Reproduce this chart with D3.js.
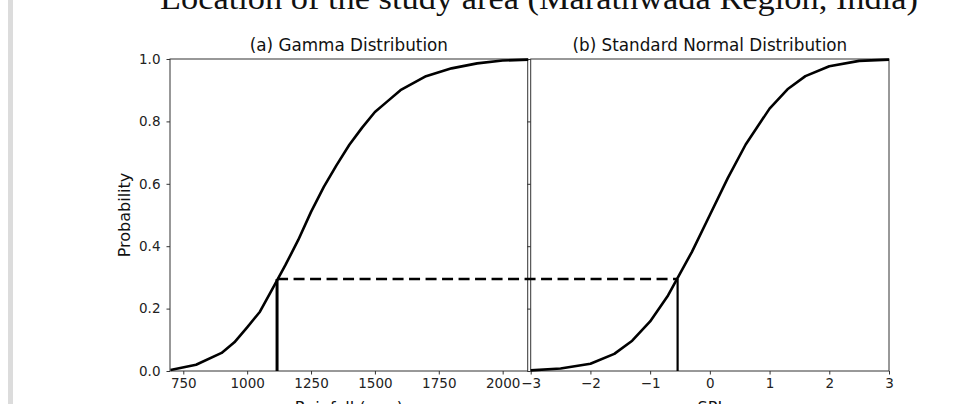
<!DOCTYPE html>
<html><head><meta charset="utf-8">
<script src="https://cdn.jsdelivr.net/npm/d3@7"></script>
<style>
html,body{margin:0;padding:0;background:#fff;overflow:hidden;}
svg{display:block;}
</style></head>
<body>
<svg id="chart" width="963" height="404"></svg>
<script>
// ---- data ----
const rainfall = [700, 800, 900, 950, 1000, 1050, 1100, 1150, 1200, 1250, 1300, 1350, 1400, 1450, 1500, 1550, 1600, 1700, 1800, 1900, 2000, 2100];
const gammaProb = [0.003, 0.02, 0.058, 0.092, 0.14, 0.19, 0.265, 0.34, 0.42, 0.51, 0.59, 0.66, 0.725, 0.78, 0.83, 0.865, 0.90, 0.945, 0.97, 0.986, 0.995, 0.998];
const spi = [-3, -2.5, -2.0, -1.6, -1.3, -1.0, -0.7, -0.3, 0, 0.3, 0.6, 1.0, 1.3, 1.6, 2.0, 2.5, 3.0];
const normalProb = [0.002, 0.008, 0.023, 0.055, 0.097, 0.159, 0.242, 0.382, 0.5, 0.618, 0.726, 0.841, 0.903, 0.945, 0.977, 0.994, 0.998];
const markRain = 1117, markSpi = -0.54, markProb = 0.295;
const rainTicks = [750, 1000, 1250, 1500, 1750, 2000];
const spiTicks = [-3, -2, -1, 0, 1, 2, 3];
const probTicks = [0, 0.2, 0.4, 0.6, 0.8, 1.0];
const titleA = "(a) Gamma Distribution";
const titleB = "(b) Standard Normal Distribution";
const xLabelA = "Rainfall (mm)";
const xLabelB = "SPI";
const yLabel = "Probability";
const pageTitle = "Location of the study area (Marathwada Region, India)";

// ---- layout ----
const svg = d3.select("#chart");
const plotTop = 59, plotBottom = 371;
const xa = d3.scaleLinear().domain([698, 2098]).range([170, 527.7]);
const xb = d3.scaleLinear().domain([-3, 3]).range([530.7, 889]);
const y = d3.scaleLinear().domain([0, 1]).range([plotBottom, plotTop]);
const font = "'DejaVu Sans', sans-serif";

// grey page bar and clipped heading
svg.append("rect").attr("x", 8).attr("y", 0).attr("width", 5).attr("height", 404).attr("fill", "#dcdcdc");
svg.append("text").attr("x", 160).attr("y", 9).attr("textLength", 758).attr("lengthAdjust", "spacingAndGlyphs")
  .attr("font-family", "'Liberation Serif', 'Times New Roman', serif").attr("font-size", 31).attr("fill", "#111")
  .text(pageTitle);

function panel(x, ticks, fmt, showYLabels) {
  const g = svg.append("g");
  const [x0, x1] = x.range();
  const ax = g.append("g").attr("transform", `translate(0,${plotBottom})`)
    .call(d3.axisBottom(x).tickValues(ticks).tickFormat(fmt).tickSize(3.5).tickPadding(3.5).tickSizeOuter(0));
  ax.select(".domain").remove();
  ax.selectAll("line").attr("stroke", "#333").attr("stroke-width", 1);
  ax.selectAll("text").attr("font-family", font).attr("font-size", 13.5).attr("fill", "#222");
  const ay = g.append("g").attr("transform", `translate(${x0},0)`)
    .call(d3.axisLeft(y).tickValues(probTicks).tickFormat(showYLabels ? d3.format(".1f") : () => "").tickSize(3.5).tickPadding(6).tickSizeOuter(0));
  ay.select(".domain").remove();
  ay.selectAll("line").attr("stroke", "#333").attr("stroke-width", 1);
  ay.selectAll("text").attr("font-family", font).attr("font-size", 13.5).attr("fill", "#222");
  g.append("rect").attr("x", x0).attr("y", plotTop).attr("width", x1 - x0).attr("height", plotBottom - plotTop)
    .attr("fill", "none").attr("stroke", "#333").attr("stroke-width", 1);
  return g;
}

panel(xa, rainTicks, d3.format("d"), true);
panel(xb, spiTicks, d3.format("d"), false);

const line = (xs) => d3.line().x(d => xs(d[0])).y(d => y(d[1]));
svg.append("path").datum(rainfall.map((r, i) => [r, gammaProb[i]]))
  .attr("d", line(xa)).attr("fill", "none").attr("stroke", "#000").attr("stroke-width", 2.6).attr("stroke-linejoin", "round");
svg.append("path").datum(spi.map((s, i) => [s, normalProb[i]]))
  .attr("d", line(xb)).attr("fill", "none").attr("stroke", "#000").attr("stroke-width", 2.6).attr("stroke-linejoin", "round");

svg.append("line").attr("x1", xa(markRain)).attr("x2", xa(markRain)).attr("y1", y(0)).attr("y2", y(markProb))
  .attr("stroke", "#000").attr("stroke-width", 3);
svg.append("line").attr("x1", xb(markSpi)).attr("x2", xb(markSpi)).attr("y1", y(0)).attr("y2", y(markProb))
  .attr("stroke", "#000").attr("stroke-width", 2.2);
svg.append("line").attr("x1", xa(markRain)).attr("x2", xb(markSpi)).attr("y1", y(markProb)).attr("y2", y(markProb))
  .attr("stroke", "#000").attr("stroke-width", 2.6).attr("stroke-dasharray", "11,5.5");

svg.append("text").attr("x", (xa.range()[0] + xa.range()[1]) / 2).attr("y", 51).attr("text-anchor", "middle")
  .attr("font-family", font).attr("font-size", 16.8).attr("fill", "#111").text(titleA);
svg.append("text").attr("x", (xb.range()[0] + xb.range()[1]) / 2).attr("y", 51).attr("text-anchor", "middle")
  .attr("font-family", font).attr("font-size", 16.8).attr("fill", "#111").text(titleB);
svg.append("text").attr("transform", `translate(130,${y(0.5)}) rotate(-90)`).attr("text-anchor", "middle")
  .attr("font-family", font).attr("font-size", 16).attr("fill", "#111").text(yLabel);
svg.append("text").attr("x", (xa.range()[0] + xa.range()[1]) / 2).attr("y", 413).attr("text-anchor", "middle")
  .attr("font-family", font).attr("font-size", 16).attr("fill", "#111").text(xLabelA);
svg.append("text").attr("x", (xb.range()[0] + xb.range()[1]) / 2).attr("y", 413).attr("text-anchor", "middle")
  .attr("font-family", font).attr("font-size", 16).attr("fill", "#111").text(xLabelB);
</script>
</body></html>
